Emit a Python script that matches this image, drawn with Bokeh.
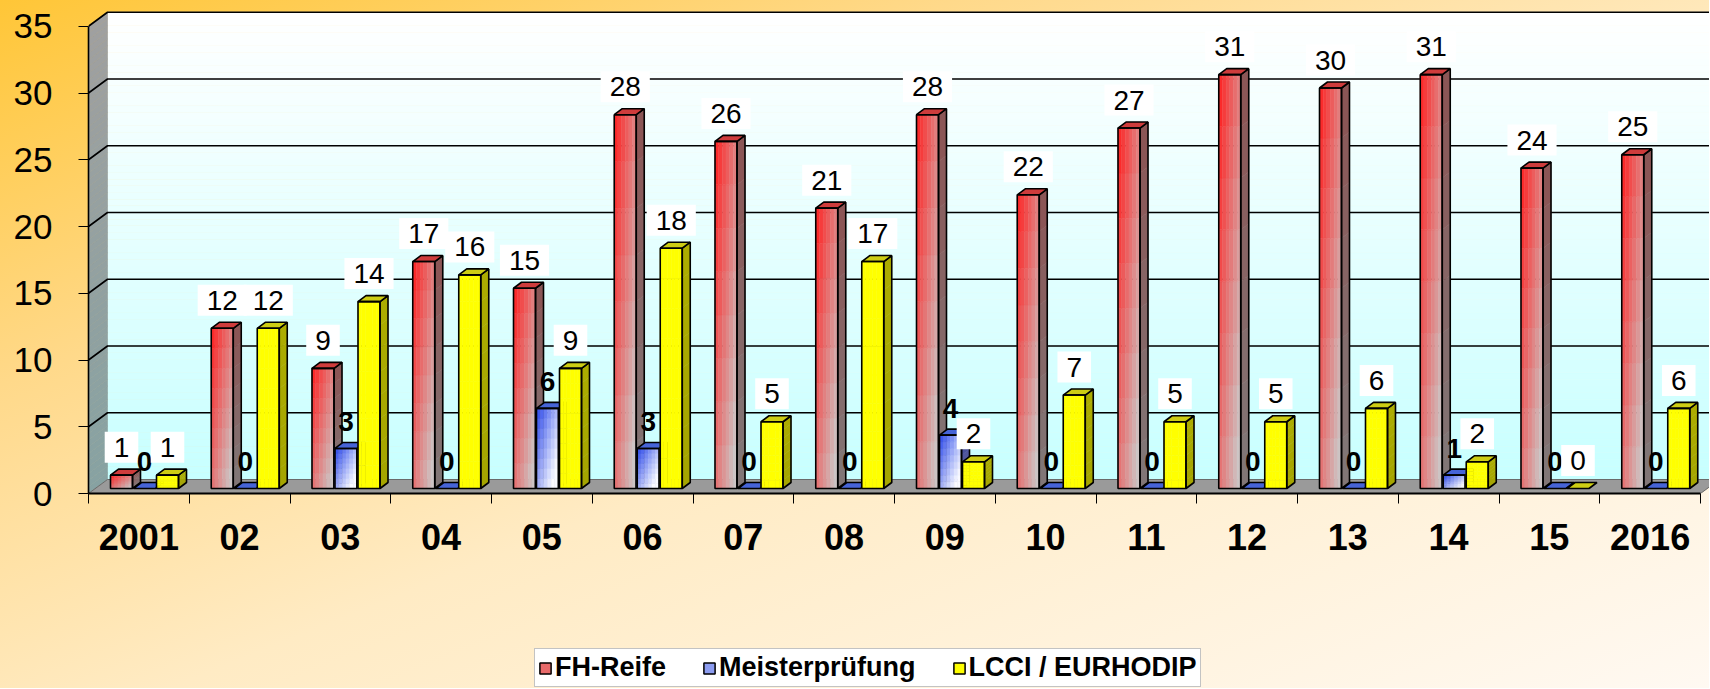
import numpy as np
from bokeh.plotting import figure
from bokeh.layouts import column
from bokeh.models import ColumnDataSource, Range1d, FixedTicker, Legend, LegendItem
from bokeh.core.properties import value
from bokeh.embed import file_html
from bokeh.resources import INLINE

# ---------------- data ----------------
CATEGORIES = ["2001", "02", "03", "04", "05", "06", "07", "08", "09", "10",
              "11", "12", "13", "14", "15", "2016"]
FH_REIFE = [1, 12, 9, 17, 15, 28, 26, 21, 28, 22, 27, 31, 30, 31, 24, 25]
MEISTER = [0, 0, 3, 0, 6, 3, 0, 0, 4, 0, 0, 0, 0, 1, 0, 0]
LCCI = [1, 12, 14, 16, 9, 18, 5, 17, 2, 7, 5, 5, 6, 2, 0, 6]
SERIES_NAMES = ["FH-Reife", "Meisterprüfung", "LCCI / EURHODIP"]
Y_TICKS = [0, 5, 10, 15, 20, 25, 30, 35]

FONT = "Liberation Sans"

# ---------------- geometry (pixels -> data units) ----------------
W = 1709
H_MAIN, H_LEG = 644, 44
LEFT, BOTTOM_Y = 88, 493
FRAME_W, FRAME_H = W - LEFT, BOTTOM_Y
PX_X = 100.75
PX_Y = 13.35
X_END = FRAME_W / PX_X
Y_END = FRAME_H / PX_Y
YMAX = 35
DX, DY = 19 / PX_X, 14 / PX_Y          # depth of chart walls
BW = 22 / PX_X                          # bar front width
OFFS = [22 / PX_X, 45 / PX_X, 68 / PX_X]
BDX, BDY = 8 / PX_X, 6 / PX_Y           # bar depth
BB = 5 / PX_Y                           # bar base lift


def hexc(c):
    return "#%02x%02x%02x" % tuple(int(round(max(0, min(255, v)))) for v in c)


def mix(a, b, s):
    s = max(0.0, min(1.0, s))
    return hexc([a[i] + (b[i] - a[i]) * s for i in range(3)])


p = figure(width=W, height=H_MAIN, x_range=Range1d(0, X_END), y_range=Range1d(0, Y_END),
           output_backend="svg", toolbar_location=None,
           min_border_left=LEFT, min_border_right=0, min_border_top=0,
           min_border_bottom=H_MAIN - BOTTOM_Y)
p.border_fill_color = None
p.background_fill_color = None
p.outline_line_color = None
p.xgrid.visible = False
p.ygrid.visible = False

# ---------------- walls ----------------
NB = 70
wb, wt, wc = [], [], []
for k in range(NB):
    wb.append(DY + YMAX * k / NB)
    wt.append(DY + YMAX * (k + 1) / NB)
    t = (k + 0.5) / NB
    wc.append(mix((198, 255, 255), (255, 255, 255), t ** 0.9))
p.quad(left=DX, right=X_END + 1, bottom="b", top="t", fill_color="c", line_color="c",
       line_width=0.6, source=ColumnDataSource(dict(b=wb, t=wt, c=wc)))

sxs, sys_, sc = [], [], []
for k in range(NB):
    y0 = YMAX * k / NB
    y1 = YMAX * (k + 1) / NB
    sxs.append([0, DX, DX, 0])
    sys_.append([y0, y0 + DY, y1 + DY, y1])
    sc.append(mix((135, 162, 162), (160, 160, 160), (k + 0.5) / NB))
p.patches(xs="xs", ys="ys", fill_color="c", line_color="c", line_width=0.6,
          source=ColumnDataSource(dict(xs=sxs, ys=sys_, c=sc)))

# floor
p.patch(x=[0, DX, len(CATEGORIES) + DX, len(CATEGORIES)], y=[0, DY, DY, 0],
        fill_color="#9a9a9a", line_color="#6a6a6a", line_width=1)

# gridlines (side wall diagonal + back wall)
gx, gy = [], []
for v in Y_TICKS[1:]:
    gx.append([0, DX, X_END + 1])
    gy.append([v, v + DY, v + DY])
p.multi_line(xs=gx, ys=gy, line_color="black", line_width=1.6)

# ---------------- bars ----------------
K, M = 6, 8
STYLE = [
    dict(front=lambda u, t: mix((255, 30, 30), (205, 196, 196), 0.6 * u + 0.5 * (1 - t)),
         side=((140, 84, 84), (128, 120, 120)), top=(206, 60, 60)),
    dict(front=lambda u, t: mix((40, 70, 235), (250, 250, 255), 0.65 * u + 0.55 * (1 - t)),
         side=((50, 60, 150), (120, 120, 165)), top=(70, 100, 215)),
    dict(front=lambda u, t: "#ffff00",
         side=((172, 172, 0), (165, 165, 0)), top=(205, 205, 20)),
]

for s, vals in enumerate([FH_REIFE, MEISTER, LCCI]):
    st = STYLE[s]
    ql, qr, qb, qt, qc = [], [], [], [], []
    sdx, sdy, sdc = [], [], []
    ox, oy = [], []
    tx, ty = [], []
    fl, fr, fb, ft = [], [], [], []
    for i, v in enumerate(vals):
        x0 = i + OFFS[s]
        x1 = x0 + BW
        y0 = BB
        y1 = v + BB
        if v > 0:
            for k in range(K):
                for m in range(M):
                    ql.append(x0 + BW * k / K)
                    qr.append(x0 + BW * (k + 1) / K)
                    qb.append(y0 + v * m / M)
                    qt.append(y0 + v * (m + 1) / M)
                    qc.append(st["front"]((k + 0.5) / K, (m + 0.5) / M))
            for m in range(M):
                a = y0 + v * m / M
                b = y0 + v * (m + 1) / M
                sdx.append([x1, x1 + BDX, x1 + BDX, x1])
                sdy.append([a, a + BDY, b + BDY, b])
                sdc.append(mix(st["side"][1], st["side"][0], (m + 0.5) / M))
            ox.append([x1, x1 + BDX, x1 + BDX, x1])
            oy.append([y0, y0 + BDY, y1 + BDY, y1])
            fl.append(x0); fr.append(x1); fb.append(y0); ft.append(y1)
        tx.append([x0, x0 + BDX, x1 + BDX, x1])
        ty.append([y1, y1 + BDY, y1 + BDY, y1])
    if ql:
        p.quad(left="l", right="r", bottom="b", top="t", fill_color="c", line_color="c",
               line_width=0.5, source=ColumnDataSource(dict(l=ql, r=qr, b=qb, t=qt, c=qc)))
    if sdx:
        p.patches(xs="xs", ys="ys", fill_color="c", line_color="c", line_width=0.5,
                  source=ColumnDataSource(dict(xs=sdx, ys=sdy, c=sdc)))
        p.patches(xs=ox, ys=oy, fill_color=None, line_color="black", line_width=1.6)
    p.patches(xs=tx, ys=ty, fill_color=hexc(st["top"]), line_color="black", line_width=1.6)
    if fl:
        p.quad(left=fl, right=fr, bottom=fb, top=ft, fill_color=None, line_color="black",
               line_width=1.6)

# ---------------- value labels ----------------
for s, vals in enumerate([FH_REIFE, MEISTER, LCCI]):
    src = ColumnDataSource(dict(
        x=[i + OFFS[s] + BW / 2 for i in range(len(vals))],
        y=[v + BB for v in vals],
        txt=[str(v) for v in vals]))
    if s == 1:
        p.text(x="x", y="y", text="txt", source=src, text_align="center",
               text_baseline="middle", y_offset=-27, text_font=value(FONT),
               text_font_size="28px", text_font_style="bold", text_color="black")
    else:
        p.text(x="x", y="y", text="txt", source=src, text_align="center",
               text_baseline="middle", y_offset=-28, text_font=value(FONT),
               text_font_size="28px", text_color="black",
               background_fill_color="white",
               padding=dict(left=9, right=9, top=6, bottom=6))

# ---------------- axes ----------------
p.yaxis.ticker = FixedTicker(ticks=Y_TICKS, minor_ticks=[])
p.yaxis.bounds = (0, YMAX)
p.yaxis.axis_line_color = "black"
p.yaxis.axis_line_width = 1.6
p.yaxis.major_tick_out = 10
p.yaxis.major_tick_in = 0
p.yaxis.major_tick_line_color = "black"
p.yaxis.major_label_standoff = 26
p.yaxis.major_label_text_font = FONT
p.yaxis.major_label_text_font_size = "35px"
p.yaxis.major_label_text_color = "black"

centers = [i + 0.5 for i in range(len(CATEGORIES))]
p.xaxis.ticker = FixedTicker(ticks=centers, minor_ticks=list(range(len(CATEGORIES) + 1)))
p.xaxis.major_label_overrides = {c: lab for c, lab in zip(centers, CATEGORIES)}
p.xaxis.bounds = (0, len(CATEGORIES))
p.xaxis.axis_line_color = "black"
p.xaxis.axis_line_width = 2.2
p.xaxis.major_tick_line_color = None
p.xaxis.major_tick_out = 0
p.xaxis.major_tick_in = 0
p.xaxis.minor_tick_line_color = "black"
p.xaxis.minor_tick_out = 10
p.xaxis.minor_tick_in = 0
p.xaxis.major_label_standoff = 20
p.xaxis.major_label_text_font = FONT
p.xaxis.major_label_text_font_size = "36px"
p.xaxis.major_label_text_font_style = "bold"
p.xaxis.major_label_text_color = "black"

# ---------------- legend (separate strip below the chart) ----------------
pl = figure(width=W, height=H_LEG, x_range=Range1d(0, W), y_range=Range1d(0, H_LEG),
            output_backend="svg", toolbar_location=None, x_axis_type=None, y_axis_type=None,
            min_border=0)
pl.border_fill_color = None
pl.background_fill_color = None
pl.outline_line_color = None
pl.xgrid.visible = False
pl.ygrid.visible = False

LEG_COLORS = ["#e86a6a", "#8c9cf0", "#ffff00"]
items = []
for name, col in zip(SERIES_NAMES, LEG_COLORS):
    r = pl.quad(left=[np.nan], right=[np.nan], top=[np.nan], bottom=[np.nan],
                fill_color=col, line_color="black", line_width=1.5)
    items.append(LegendItem(label=name, renderers=[r]))
legend = Legend(items=items, orientation="horizontal", location=(446, 1),
                label_text_font=FONT, label_text_font_size="27px",
                label_text_font_style="bold", label_text_color="black",
                glyph_width=14, glyph_height=14, label_standoff=3, spacing=36,
                padding=3, margin=0, border_line_color="#888888", border_line_width=1,
                background_fill_color="white", background_fill_alpha=1)
pl.add_layout(legend, "center")

page = column(p, pl, spacing=0)
page.styles = {"background": "linear-gradient(to bottom right, #FFC637 0%, #FFD98A 28%, #FFEBC4 55%, #FFF9F2 100%)"}

open("out.html", "w", encoding="utf-8").write(file_html(page, INLINE))
